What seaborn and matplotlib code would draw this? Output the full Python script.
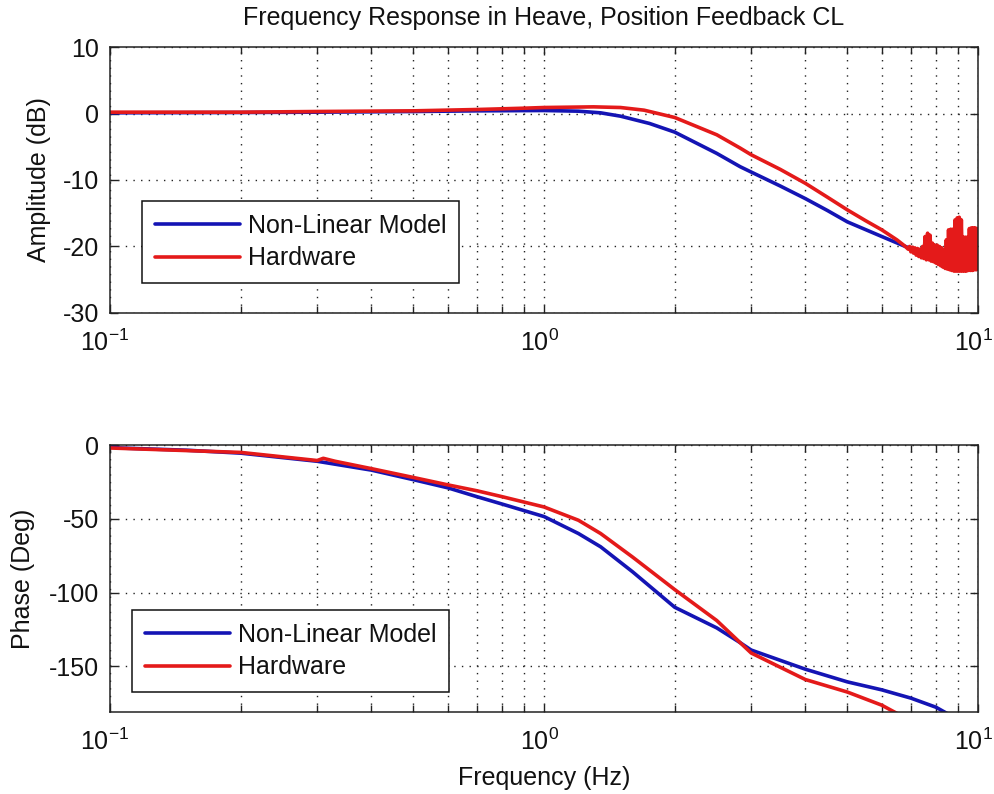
import numpy as np
import pandas as pd
import matplotlib
matplotlib.use("Agg")
import matplotlib.pyplot as plt
import matplotlib.transforms as mtransforms
import seaborn as sns
from matplotlib.ticker import LogLocator, LogFormatterSciNotation, NullFormatter

# ---------------- data ----------------
title = "Frequency Response in Heave, Position Feedback CL"
series_names = ["Non-Linear Model", "Hardware"]

amp_model_f = [0.1, 0.2, 0.3, 0.5, 0.7, 1.0, 1.2, 1.35, 1.5, 1.75, 2.0, 2.5, 2.83,
               3.0, 3.5, 4.0, 4.5, 5.0, 6.0, 6.8, 7.0, 8.0, 9.0, 10.0]
amp_model_db = [0.1, 0.15, 0.2, 0.3, 0.4, 0.45, 0.35, 0.1, -0.4, -1.5, -2.8, -6.0, -8.0,
                -8.8, -10.9, -12.8, -14.6, -16.3, -18.5, -20.0, -20.3, -21.3, -22.0, -22.5]

amp_hw_f = [0.1, 0.2, 0.3, 0.5, 0.7, 0.9, 1.0, 1.3, 1.5, 1.7, 2.0, 2.5, 2.83, 3.0,
            3.5, 4.0, 4.5, 5.0, 5.5, 6.0, 6.5, 6.8,
            6.9, 6.95, 7.0, 7.05, 7.1, 7.15, 7.2, 7.25, 7.3, 7.35, 7.4, 7.45, 7.5,
            7.55, 7.6, 7.65, 7.7, 7.75, 7.8, 7.85, 7.9, 7.95, 8.0, 8.05, 8.1, 8.15,
            8.2, 8.25, 8.3, 8.35, 8.4, 8.45, 8.5, 8.55, 8.6, 8.65, 8.7, 8.75, 8.8,
            8.85, 8.9, 8.95, 9.0, 9.05, 9.1, 9.15, 9.2, 9.25, 9.3, 9.35, 9.4, 9.45,
            9.5, 9.55, 9.6, 9.65, 9.7, 9.75, 9.8, 9.85, 9.9, 9.95, 10.0]
amp_hw_db = [0.2, 0.2, 0.3, 0.4, 0.6, 0.8, 0.9, 1.0, 0.9, 0.5, -0.6, -3.2, -5.2, -6.2,
             -8.4, -10.5, -12.6, -14.5, -16.1, -17.5, -19.0, -20.0,
             -20.4, -20.0, -20.8, -20.1, -21.0, -20.2, -21.3, -20.3, -21.5, -20.4,
             -21.7, -20.0, -21.8, -18.5, -22.0, -18.0, -22.0, -18.3, -22.2, -19.5,
             -22.3, -19.8, -22.5, -19.8, -22.7, -20.0, -22.9, -20.2, -23.1, -20.5,
             -23.3, -19.0, -23.4, -17.5, -23.5, -17.4, -23.6, -17.4, -23.7, -16.0,
             -23.7, -15.7, -23.7, -15.6, -23.7, -16.0, -23.7, -18.6, -23.7, -18.6,
             -23.7, -18.6, -23.6, -17.3, -23.6, -17.2, -23.6, -17.2, -23.5, -17.2,
             -23.5, -17.3, -23.4]

ph_model_f = [0.1, 0.105, 0.15, 0.2, 0.3, 0.4, 0.5, 0.6, 0.7, 0.8, 1.0, 1.2, 1.35,
              1.6, 2.0, 2.5, 2.83, 3.0, 4.0, 5.0, 6.0, 7.0, 8.0, 8.6]
ph_model_deg = [-0.5, -2.0, -3.5, -5.5, -11.0, -17.0, -23.5, -29.0, -35.0, -40.0,
                -48.5, -60.0, -69.0, -86.0, -110.0, -124.0, -134.0, -139.0, -152.0,
                -160.6, -166.0, -171.6, -177.8, -183.0]

ph_hw_f = [0.1, 0.2, 0.3, 0.31, 0.33, 0.4, 0.5, 0.6, 0.7, 0.8, 1.0, 1.2, 1.35, 1.6,
           2.0, 2.5, 2.83, 3.0, 4.0, 5.0, 6.0, 6.6]
ph_hw_deg = [-2.0, -5.0, -10.5, -9.0, -11.0, -16.0, -22.0, -27.0, -31.0, -35.0, -42.0,
             -51.0, -60.0, -76.0, -98.0, -119.0, -134.0, -141.0, -159.0, -167.5,
             -176.4, -183.0]

amp_yticks = [-30, -20, -10, 0, 10]
ph_yticks = [-150, -100, -50, 0]

# ---------------- style ----------------
sns.set_style("ticks")
plt.rcParams["font.family"] = ["Liberation Sans", "DejaVu Sans"]
plt.rcParams["mathtext.fontset"] = "custom"
plt.rcParams["mathtext.rm"] = "Liberation Sans"
plt.rcParams["mathtext.it"] = "Liberation Sans"
plt.rcParams["mathtext.default"] = "regular"
plt.rcParams["axes.unicode_minus"] = False
plt.rcParams["text.color"] = "#111111"
plt.rcParams["axes.labelcolor"] = "#111111"
plt.rcParams["xtick.color"] = "#111111"
plt.rcParams["ytick.color"] = "#111111"

BLUE = "#1414b4"
RED = "#e41a1a"
FS = 18

fig = plt.figure(figsize=(9.95, 7.94), dpi=100)
fig.patch.set_facecolor("white")
ax1 = fig.add_axes([0.1106, 0.6058, 0.8724, 0.335])
ax2 = fig.add_axes([0.1106, 0.1033, 0.8724, 0.3362])

amp_m = pd.DataFrame({"f": amp_model_f, "v": amp_model_db})
amp_h = pd.DataFrame({"f": amp_hw_f, "v": amp_hw_db})
ph_m = pd.DataFrame({"f": ph_model_f, "v": ph_model_deg})
ph_h = pd.DataFrame({"f": ph_hw_f, "v": ph_hw_deg})

shift = mtransforms.ScaledTranslation(-5 / 100, 0, fig.dpi_scale_trans)

for ax, dm, dh in [(ax1, amp_m, amp_h), (ax2, ph_m, ph_h)]:
    sns.lineplot(data=dm, x="f", y="v", ax=ax, color=BLUE, lw=2.6,
                 label=series_names[0], estimator=None, sort=False)
    sns.lineplot(data=dh, x="f", y="v", ax=ax, color=RED, lw=2.6,
                 label=series_names[1], estimator=None, sort=False)
    ax.set_xscale("log")
    ax.set_xlim(0.1, 10)
    ax.xaxis.set_major_locator(LogLocator(base=10, numticks=10))
    ax.xaxis.set_minor_locator(LogLocator(base=10, subs=np.arange(2, 10), numticks=20))
    ax.xaxis.set_major_formatter(LogFormatterSciNotation())
    ax.xaxis.set_minor_formatter(NullFormatter())
    ax.grid(True, which="both", axis="x", color="#222222", linestyle=(0, (1, 4.5)), lw=1.0)
    ax.grid(True, which="major", axis="y", color="#222222", linestyle=(0, (1, 4.5)), lw=1.0)
    ax.tick_params(which="both", direction="in", top=True, right=True,
                   labelsize=FS, width=1.0, color="#222222")
    ax.tick_params(which="major", length=6, pad=8)
    ax.tick_params(which="minor", length=5)
    ax.tick_params(axis="x", which="major", pad=12)
    for s in ax.spines.values():
        s.set_linewidth(1.1)
        s.set_color("#222222")
    ax.set_xlabel("")
    ax.set_facecolor("white")

ax1.set_ylim(-30, 10)
ax1.set_yticks(amp_yticks)
ax2.set_ylim(-181, 0)
ax2.set_yticks(ph_yticks)

ax1.set_title(title, fontsize=FS, pad=16)
ax1.set_ylabel("Amplitude (dB)", fontsize=FS, labelpad=8)
ax2.set_ylabel("Phase (Deg)", fontsize=FS, labelpad=10)
ax2.set_xlabel("Frequency (Hz)", fontsize=FS, labelpad=8)

for ax, anchor in [(ax1, (0.037, 0.113)), (ax2, (0.0253, 0.075))]:
    leg = ax.legend(loc="lower left", bbox_to_anchor=anchor, frameon=True,
                    fancybox=False, edgecolor="#111111", framealpha=1, fontsize=FS,
                    handlelength=3.4, handletextpad=0.35, labelspacing=0.35,
                    borderpad=0.5, borderaxespad=0)
    leg.get_frame().set_linewidth(1.1)
    for l in leg.get_lines():
        l.set_linewidth(2.6)

fig.canvas.draw()
for ax in (ax1, ax2):
    for lab in ax.get_xticklabels():
        lab.set_transform(lab.get_transform() + shift)

fig.savefig("out.png", dpi=100, facecolor="white")
